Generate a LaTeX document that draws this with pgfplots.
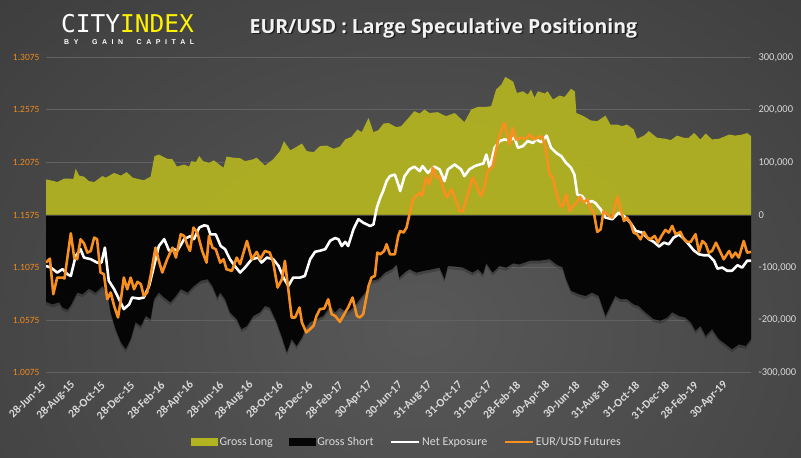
\documentclass[border=0pt]{standalone}
\usepackage{pgfplots}
\pgfplotsset{compat=1.18}
\usepackage{fontspec}
\setmainfont{Carlito}
\newfontfamily\titlefont{Open Sans}
\newfontfamily\logofont{DejaVu Sans Mono}
\newfontfamily\subfont{Liberation Sans}
\definecolor{olivefill}{HTML}{B3B322}
\definecolor{orangeline}{HTML}{F7901E}
\definecolor{orangelbl}{HTML}{F08A1E}
\definecolor{ticklbl}{HTML}{D9D9D9}
\definecolor{gridc}{HTML}{626262}
\definecolor{bgin}{HTML}{585858}
\definecolor{bgout}{HTML}{2C2C2C}
\definecolor{logoyellow}{HTML}{FFF200}
\definecolor{shortfill}{HTML}{050505}
\begin{document}
\begin{tikzpicture}[x=1pt,y=1pt]
\begin{scope}
\clip (0,0) rectangle (801,458);
\shade[inner color=bgin, outer color=bgout] (-580,-670) rectangle (1420,930);
\end{scope}
% logo
\node[anchor=base west, inner sep=0] at (61,425.3) {\logofont\fontsize{24.5}{24}\selectfont\textcolor{white}{CITY}\textcolor{logoyellow}{INDEX}};
\node[anchor=base west, inner sep=0, text=white] at (64,413.7) {\subfont\bfseries\fontsize{7}{7}\selectfont\makebox[130pt][s]{B\hfill Y\hfill\hfill\hfill G\hfill A\hfill I\hfill N\hfill\hfill\hfill C\hfill A\hfill P\hfill I\hfill T\hfill A\hfill L}};
% title
\node[anchor=base, inner sep=0, text=black, opacity=0.55] at (445,423.2) {\titlefont\bfseries\fontsize{19.5}{20}\selectfont EUR/USD : Large Speculative Positioning};
\node[anchor=base, inner sep=0, text=white!95!black] at (443.5,424.7) {\titlefont\bfseries\fontsize{19.5}{20}\selectfont EUR/USD : Large Speculative Positioning};

\pgfplotstableread{
x y
0 -165000
13 -170000
27 -166000
34 -176000
44 -180000
51 -171500
64 -147500
75 -150600
88 -140000
102 -147500
116 -135000
126 -147500
133 -185400
143 -217000
154 -242000
164 -255000
174 -236000
184 -204000
195 -211000
205 -192000
215 -198000
222 -160000
232 -147500
243 -157000
256 -166000
267 -154000
277 -141000
291 -147500
304 -135000
318 -125000
332 -122000
342 -135000
352 -157000
358 -147500
368 -160000
378 -185000
392 -198000
402 -217000
413 -211000
426 -192000
440 -185000
450 -173000
460 -176000
474 -204000
484 -230000
495 -261000
505 -236000
515 -249000
526 -233000
536 -211000
543 -204000
556 -198000
570 -192000
584 -173000
594 -185000
604 -176000
618 -185000
632 -176000
645 -160000
659 -144000
669 -125000
683 -122000
697 -109500
711 -103000
721 -94000
726 -119000
737 -109500
747 -103000
761 -109500
778 -106000
795 -103000
809 -100000
819 -122000
826 -97000
840 -98000
857 -100000
877 -109500
888 -103000
898 -112700
905 -92000
918 -109500
932 -97000
946 -100000
960 -92000
973 -94000
994 -87000
1014 -87000
1035 -84000
1049 -94000
1062 -100000
1069 -122000
1079 -144000
1095 -150600
1109 -154000
1122 -147500
1136 -154000
1150 -192000
1160 -173000
1170 -154000
1181 -160000
1194 -160000
1208 -170000
1218 -173000
1232 -185000
1249 -198000
1263 -201000
1277 -195000
1287 -185000
1301 -192000
1314 -195000
1325 -204000
1335 -220000
1345 -211000
1356 -230000
1369 -217000
1383 -236000
1397 -246000
1410 -255000
1424 -246000
1438 -249000
1449 -236000
}\grossshort

\begin{axis}[
  at={(46pt,85.3pt)}, anchor=south west, scale only axis,
  width=705pt, height=315.4pt,
  xmin=0, xmax=1449, ymin=-300000, ymax=300000,
  axis line style={draw=none}, major tick style={draw=none},
  scaled y ticks=false,
  ytick={-300000,-200000,-100000,0,100000,200000,300000},
  yticklabels={{-300,000},{-200,000},{-100,000},0,{100,000},{200,000},{300,000}},
  yticklabel pos=right,
  yticklabel style={anchor=west, font=\fontsize{10.5}{12}\selectfont, text=ticklbl, xshift=4pt},
  ymajorgrids, grid style={gridc, line width=0.8pt},
  xtick={0,61,122,183,245,305,366,427,488,549,611,672,733,795,856,917,976,1037,1098,1160,1221,1282,1341,1402},
  xticklabels={28-Jun-15,28-Aug-15,28-Oct-15,28-Dec-15,28-Feb-16,28-Apr-16,28-Jun-16,28-Aug-16,28-Oct-16,28-Dec-16,28-Feb-17,30-Apr-17,30-Jun-17,31-Aug-17,31-Oct-17,31-Dec-17,28-Feb-18,30-Apr-18,30-Jun-18,31-Aug-18,31-Oct-18,31-Dec-18,28-Feb-19,30-Apr-19},
  xticklabel style={rotate=45, anchor=east, font=\bfseries\fontsize{11.5}{12}\selectfont, text=ticklbl},
  xticklabel shift=8pt,
]
\addplot[fill=olivefill, draw=none, fill opacity=0.94] table {
0 67700
16 64600
23 62700
37 69000
51 69000
56 68000
61 88000
68 75000
78 73000
88 64600
99 62700
116 74000
123 71000
140 80000
154 75000
166 81600
178 71000
201 66000
215 73000
223 112000
232 115000
249 107000
260 106000
269 92000
284 96000
294 92000
299 102500
308 100600
315 112000
323 102500
335 99000
345 104000
356 96000
365 90000
371 111000
385 109000
399 108000
409 102500
426 106000
433 109000
450 94000
467 106000
481 121500
489 140500
502 123000
512 128000
526 136000
536 121500
550 119600
563 131000
577 132000
591 126000
604 130000
615 143700
628 148700
640 162700
649 157600
663 184800
673 157600
683 161400
694 174000
704 175000
714 170000
720 167000
730 169000
747 186700
757 197500
768 193000
778 200600
788 194000
805 195600
822 188000
840 194000
860 176600
874 200600
888 205700
905 205700
915 207000
925 238600
936 248000
944 262700
960 254000
968 232000
980 235400
990 229000
997 238600
1004 222800
1011 235400
1025 231000
1031 235400
1042 219600
1055 227000
1066 224700
1079 240000
1087 235000
1090 194000
1105 188000
1119 180000
1133 178500
1150 189000
1160 172000
1174 172000
1184 169000
1194 172000
1208 162700
1215 145000
1229 151000
1239 159500
1256 146800
1273 145000
1284 142400
1297 151000
1311 146800
1321 146800
1332 156000
1345 143700
1356 155000
1369 143700
1383 145000
1393 148700
1404 153000
1417 151000
1431 153000
1441 156000
1449 150000
} \closedcycle;
\addplot[fill=black, draw=none, fill opacity=0.22, yshift=-3pt] table {\grossshort} \closedcycle;
\addplot[fill=shortfill, draw=none] table {\grossshort} \closedcycle;
\draw[gridc!120, line width=0.8pt] (rel axis cs:0,0.5) -- (rel axis cs:1,0.5);
\addplot[white, line width=2.6pt, line join=round] table {
0 -97000
10 -100000
23 -109500
34 -103000
44 -112700
51 -116000
61 -78000
71 -65000
78 -81000
92 -84000
105 -90500
114 -90500
121 -62000
129 -125000
140 -141000
150 -160000
160 -179000
171 -170000
177 -157000
191 -159000
201 -157000
212 -135000
222 -97000
232 -59000
243 -46000
253 -68000
263 -65000
270 -68000
284 -46000
297 -40000
304 -46000
315 -24000
325 -19600
332 -21000
338 -37000
349 -37000
359 -59000
368 -65000
378 -84000
388 -97000
399 -109500
409 -100000
423 -84000
436 -81000
443 -90500
454 -81000
467 -84000
478 -97000
488 -119000
498 -135000
508 -119000
522 -119000
532 -116000
543 -84000
553 -70000
563 -68000
574 -65000
584 -49000
594 -44000
601 -46000
608 -59000
615 -51000
621 -59000
632 -27000
642 -8000
652 -14600
666 -21000
673 -18000
680 14000
687 33000
693 45600
700 64600
707 74000
717 77000
724 58000
728 45600
737 74000
747 86700
757 92000
768 83500
774 93000
785 80000
798 92000
809 86700
819 64600
826 86700
840 96000
853 86700
860 74000
870 86700
881 93000
891 96000
899 98000
905 115000
912 90000
922 128000
932 140500
942 143700
953 142400
963 147000
970 128000
980 131000
990 140500
1001 137000
1007 143700
1018 138600
1029 151000
1038 128000
1049 118000
1059 112000
1069 99000
1079 90000
1086 77000
1092 39000
1102 36000
1112 23000
1122 26600
1129 23000
1140 10800
1150 -5000
1164 -8000
1177 4400
1188 -2000
1201 -14600
1212 -30000
1225 -33500
1239 -46000
1249 -51000
1260 -60000
1270 -52500
1280 -55700
1290 -43000
1301 -37000
1311 -45000
1321 -55700
1332 -68000
1342 -74700
1352 -76600
1362 -76600
1373 -87000
1380 -102000
1390 -100000
1400 -106000
1410 -106000
1421 -95600
1431 -100000
1441 -87000
1449 -87000
};
\end{axis}

\begin{axis}[
  at={(46pt,85.3pt)}, anchor=south west, scale only axis,
  width=705pt, height=315.4pt,
  xmin=0, xmax=1449, ymin=1.0075, ymax=1.3075,
  axis line style={draw=none}, major tick style={draw=none},
  xtick=\empty,
  ytick={1.0075,1.0575,1.1075,1.1575,1.2075,1.2575,1.3075},
  yticklabels={1.0075,1.0575,1.1075,1.1575,1.2075,1.2575,1.3075},
  yticklabel style={anchor=east, font=\fontsize{9.5}{11}\selectfont, text=orangelbl, xshift=-3pt},
  legend style={at={(0.512,-0.2197)}, anchor=center, draw=none, fill=none, text=ticklbl,
    font=\fontsize{12}{14}\selectfont, legend columns=4,
    /tikz/every even column/.append style={column sep=14pt}},
]
\addlegendimage{legend image code/.code={\fill[olivefill] (0pt,-3.5pt) rectangle (26pt,3.5pt);}}
\addlegendentry{Gross Long}
\addlegendimage{legend image code/.code={\fill[shortfill] (0pt,-3.5pt) rectangle (26pt,3.5pt);}}
\addlegendentry{Gross Short}
\addlegendimage{legend image code/.code={\draw[white, line width=2.6pt] (0pt,0pt) -- (28pt,0pt);}}
\addlegendentry{Net Exposure}
\addplot[orangeline, line width=2.6pt, line join=round,
  legend image code/.code={\draw[orangeline, line width=2.6pt] (0pt,0pt) -- (28pt,0pt);}] table {
0 1.1122
8 1.1160
15 1.0822
23 1.0980
34 1.0980
38 1.0971
51 1.1401
58 1.1170
64 1.1154
71 1.1344
78 1.1306
85 1.1217
92 1.1233
99 1.1360
105 1.1344
112 1.1028
119 1.1012
126 1.0774
133 1.0838
140 1.0711
148 1.0600
154 1.0774
160 1.0980
167 1.0869
174 1.0980
181 1.0869
188 1.0939
195 1.0917
201 1.0806
208 1.0838
215 1.0996
225 1.1265
232 1.1138
239 1.1028
249 1.1154
260 1.1265
267 1.1170
277 1.1392
284 1.1376
291 1.1281
296 1.1233
303 1.1455
311 1.1408
321 1.1233
330 1.1122
335 1.1376
342 1.1265
349 1.1249
358 1.1122
365 1.1154
371 1.1059
382 1.1043
392 1.1170
399 1.1107
413 1.1328
423 1.1154
433 1.1224
440 1.1154
450 1.1233
460 1.1217
467 1.1122
476 1.0885
485 1.0964
491 1.1138
498 1.0869
505 1.0600
512 1.0600
521 1.0695
526 1.0553
535 1.0458
543 1.0490
550 1.0521
556 1.0616
563 1.0679
572 1.0686
580 1.0774
587 1.0632
594 1.0616
604 1.0559
615 1.0648
621 1.0695
630 1.0790
639 1.0616
645 1.0600
652 1.0632
663 1.0901
669 1.0980
676 1.0996
681 1.1217
687 1.1201
695 1.1233
700 1.1297
707 1.1201
717 1.1201
724 1.1376
728 1.1423
735 1.1408
741 1.1455
747 1.1581
754 1.1724
761 1.1755
768 1.1787
773 1.1755
781 1.1929
788 1.1866
795 1.2024
802 1.1929
809 1.1945
816 1.1834
824 1.1740
833 1.1819
842 1.1724
850 1.1613
857 1.1613
867 1.1771
877 1.1929
884 1.1866
894 1.1755
901 1.1834
908 1.1993
918 1.2040
929 1.2278
935 1.2372
942 1.2452
953 1.2246
959 1.2404
966 1.2293
977 1.2309
987 1.2300
994 1.2341
1004 1.2293
1014 1.2325
1021 1.2309
1028 1.2183
1035 1.1961
1042 1.1929
1048 1.1803
1057 1.1660
1062 1.1660
1069 1.1771
1076 1.1613
1083 1.1660
1090 1.1692
1098 1.1749
1105 1.1692
1112 1.1724
1119 1.1645
1126 1.1597
1133 1.1414
1140 1.1439
1146 1.1613
1157 1.1566
1164 1.1550
1174 1.1749
1181 1.1629
1188 1.1518
1194 1.1550
1201 1.1502
1208 1.1407
1215 1.1392
1222 1.1344
1229 1.1414
1236 1.1360
1242 1.1344
1251 1.1376
1258 1.1312
1265 1.1376
1273 1.1433
1280 1.1408
1287 1.1471
1294 1.1392
1304 1.1414
1311 1.1344
1318 1.1319
1325 1.1319
1335 1.1392
1342 1.1224
1349 1.1328
1356 1.1297
1362 1.1217
1369 1.1233
1377 1.1312
1385 1.1233
1393 1.1154
1404 1.1233
1410 1.1170
1417 1.1217
1424 1.1170
1434 1.1328
1441 1.1217
1449 1.1224
};
\addlegendentry{EUR/USD Futures}
\end{axis}
\pgfresetboundingbox
\useasboundingbox (0,0) rectangle (801,458);
\end{tikzpicture}
\end{document}
